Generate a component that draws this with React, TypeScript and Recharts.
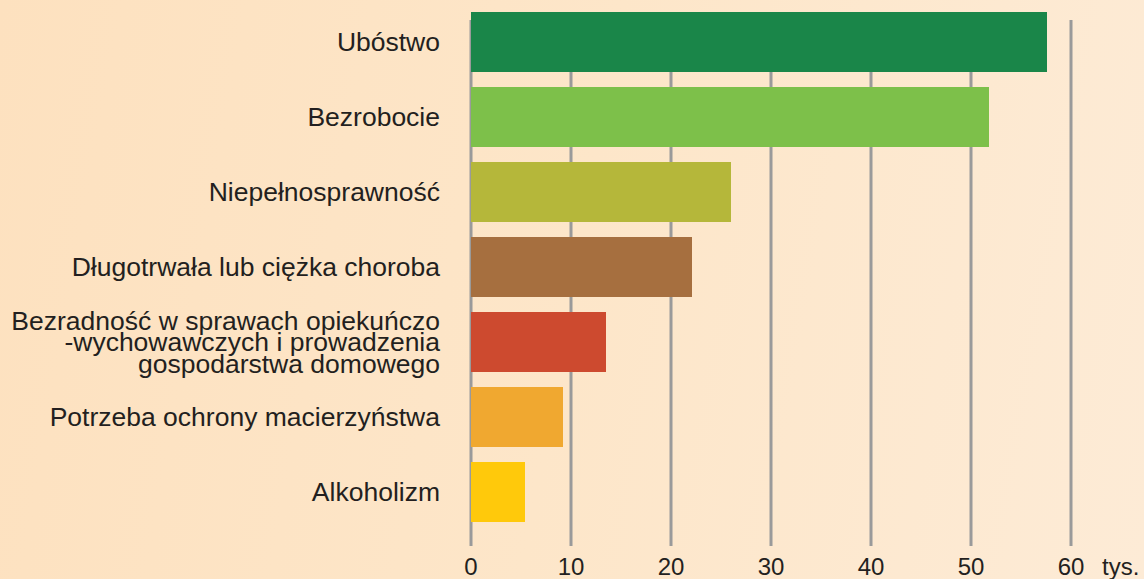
import { BarChart, Bar, XAxis, YAxis, CartesianGrid, Cell } from 'recharts';

const categories = [
  'Ubóstwo',
  'Bezrobocie',
  'Niepełnosprawność',
  'Długotrwała lub ciężka choroba',
  'Bezradność w sprawach opiekuńczo\n-wychowawczych i prowadzenia\ngospodarstwa domowego',
  'Potrzeba ochrony macierzyństwa',
  'Alkoholizm',
];
const values = [57.6, 51.8, 26.0, 22.1, 13.5, 9.2, 5.4];
const colors = ['#1A8649', '#7DC04A', '#B5B73A', '#A66F3F', '#CD4A2F', '#F0A830', '#FFC90B'];
const xTicks = [0, 10, 20, 30, 40, 50, 60];
const unit = 'tys.';

const data = categories.map((name, i) => ({ name, value: values[i], color: colors[i] }));

const FONT = '"Liberation Sans", Arial, sans-serif';

function CategoryTick({ x, y, payload }: any) {
  const lines = String(payload.value).split('\n');
  const lh = 21.5;
  const start = -((lines.length - 1) * lh) / 2;
  return (
    <text x={x} y={y} textAnchor="end" fontSize={26.5} fill="#231F20" fontFamily={FONT}>
      {lines.map((l, i) => (
        <tspan key={i} x={x} y={y + start + i * lh + 9}>
          {l}
        </tspan>
      ))}
    </text>
  );
}

function ValueTick({ x, payload }: any) {
  return (
    <g>
      <text x={x} y={575} textAnchor="middle" fontSize={24} fill="#231F20" fontFamily={FONT}>
        {payload.value}
      </text>
      {payload.value === 60 && (
        <text x={x + 31} y={575} textAnchor="start" fontSize={24} fill="#231F20" fontFamily={FONT}>
          {unit}
        </text>
      )}
    </g>
  );
}

function GridLine(props: any) {
  return <line x1={props.x1} x2={props.x2} y1={20} y2={546} stroke="#9A9A9A" strokeWidth={3} />;
}

export default function App() {
  return (
    <div
      style={{
        position: 'absolute',
        left: 0,
        top: 0,
        width: 1144,
        height: 579,
        background: 'linear-gradient(100deg, #FDE1BF 0%, #FDE6C9 50%, #FDEBD6 100%)',
      }}
    >
      <BarChart
        width={1144}
        height={579}
        data={data}
        layout="vertical"
        margin={{ top: 4.5, right: 73, left: 0, bottom: 19.5 }}
        barCategoryGap={7.5}
      >
        <CartesianGrid horizontal={false} vertical={GridLine} />
        <XAxis
          type="number"
          domain={[0, 60]}
          ticks={xTicks}
          axisLine={false}
          tickLine={false}
          tick={ValueTick}
          height={30}
          interval={0}
        />
        <YAxis
          type="category"
          dataKey="name"
          width={471}
          axisLine={false}
          tickLine={false}
          tickMargin={25}
          tick={CategoryTick}
          interval={0}
        />
        <Bar dataKey="value" isAnimationActive={false}>
          {data.map((d, i) => (
            <Cell key={i} fill={d.color} />
          ))}
        </Bar>
      </BarChart>
    </div>
  );
}
